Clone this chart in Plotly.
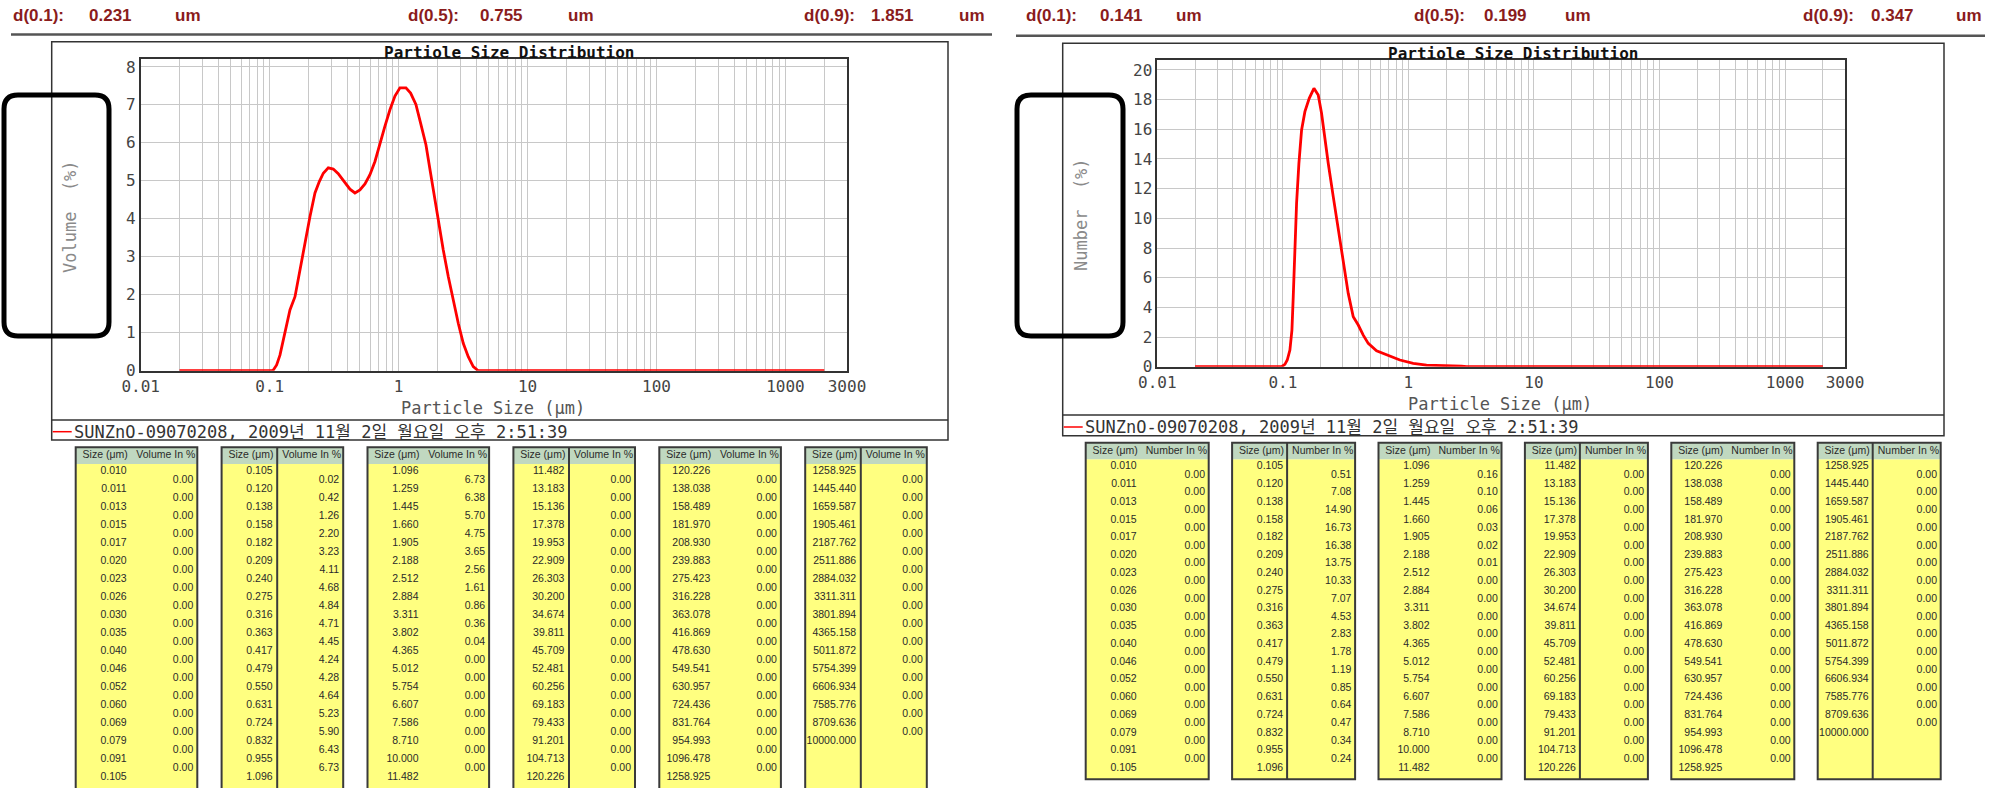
import math
import plotly.graph_objects as go

W, H = 1991, 788

# ---------------- data ----------------
size_labels = [
    "0.010", "0.011", "0.013", "0.015", "0.017", "0.020", "0.023", "0.026", "0.030", "0.035",
    "0.040", "0.046", "0.052", "0.060", "0.069", "0.079", "0.091", "0.105",
    "0.120", "0.138", "0.158", "0.182", "0.209", "0.240", "0.275", "0.316", "0.363", "0.417",
    "0.479", "0.550", "0.631", "0.724", "0.832", "0.955", "1.096",
    "1.259", "1.445", "1.660", "1.905", "2.188", "2.512", "2.884", "3.311", "3.802", "4.365",
    "5.012", "5.754", "6.607", "7.586", "8.710", "10.000", "11.482",
    "13.183", "15.136", "17.378", "19.953", "22.909", "26.303", "30.200", "34.674", "39.811",
    "45.709", "52.481", "60.256", "69.183", "79.433", "91.201", "104.713", "120.226",
    "138.038", "158.489", "181.970", "208.930", "239.883", "275.423", "316.228", "363.078",
    "416.869", "478.630", "549.541", "630.957", "724.436", "831.764", "954.993", "1096.478", "1258.925",
    "1445.440", "1659.587", "1905.461", "2187.762", "2511.886", "2884.032", "3311.311", "3801.894",
    "4365.158", "5011.872", "5754.399", "6606.934", "7585.776", "8709.636", "10000.000",
]

volume_pct = (
    [0.00] * 17
    + [0.02, 0.42, 1.26, 2.20, 3.23, 4.11, 4.68, 4.84, 4.71, 4.45, 4.24, 4.28, 4.64, 5.23, 5.90, 6.43, 6.73]
    + [6.73, 6.38, 5.70, 4.75, 3.65, 2.56, 1.61, 0.86, 0.36, 0.04] + [0.00] * 7
    + [0.00] * 17
    + [0.00] * 17
    + [0.00] * 15
)

number_pct = (
    [0.00] * 17
    + [0.51, 7.08, 14.90, 16.73, 16.38, 13.75, 10.33, 7.07, 4.53, 2.83, 1.78, 1.19, 0.85, 0.64, 0.47, 0.34, 0.24]
    + [0.16, 0.10, 0.06, 0.03, 0.02, 0.01] + [0.00] * 11
    + [0.00] * 17
    + [0.00] * 17
    + [0.00] * 15
)

# curves read from the plotted distributions
vol_curve_x = [0.02, 0.1036, 0.1068, 0.1133, 0.1202, 0.1276, 0.1354, 0.1437, 0.1572, 0.1718, 0.1878,
               0.2055, 0.2246, 0.2427, 0.2606, 0.2849, 0.3114, 0.3404, 0.3724, 0.4195, 0.4586, 0.5013,
               0.5483, 0.5994, 0.6555, 0.7166, 0.7836, 0.8566, 0.9367, 1.024, 1.14, 1.239, 1.362, 1.481,
               1.629, 1.770, 1.857, 2.030, 2.220, 2.427, 2.654, 2.901, 3.172, 3.468, 3.792, 4.147, 2000]
vol_curve_y = [0, 0, 0.02, 0.15, 0.41, 0.81, 1.25, 1.60, 1.95, 2.65, 3.45,
               4.06, 4.68, 4.98, 5.20, 5.34, 5.31, 5.19, 5.01, 4.78, 4.68, 4.76,
               4.92, 5.16, 5.51, 6.00, 6.44, 6.87, 7.23, 7.45, 7.45, 7.31, 7.01, 6.52,
               5.95, 5.20, 4.76, 3.97, 3.18, 2.48, 1.82, 1.25, 0.72, 0.37, 0.11, 0, 0]

num_curve_x = [0.02, 0.0977, 0.1038, 0.1084, 0.1138, 0.1181, 0.121, 0.1248, 0.1286, 0.1342, 0.141,
               0.1498, 0.1622, 0.1768, 0.1913, 0.2033, 0.2162, 0.2298, 0.2519, 0.2761, 0.3027, 0.3317,
               0.3635, 0.3985, 0.4367, 0.4786, 0.5574, 0.6697, 0.8551, 1.092, 1.394, 2.649, 2.904, 2000]
num_curve_y = [0, 0, 0.16, 0.45, 1.12, 2.47, 4.72, 8.09, 11.0, 13.7, 15.96,
               17.19, 18.09, 18.76, 18.31, 17.08, 15.28, 13.71, 11.46, 9.21, 6.97, 4.94,
               3.37, 2.81, 2.13, 1.57, 1.08, 0.79, 0.45, 0.22, 0.11, 0.04, 0, 0]

x_tick_positions = [0.01, 0.1, 1, 10, 100, 1000, 3000]
x_tick_labels = ["0.01", "0.1", "1", "10", "100", "1000", "3000"]

d_labels = ["d(0.1):", "d(0.5):", "d(0.9):"]
volume_d = ["0.231", "0.755", "1.851"]
number_d = ["0.141", "0.199", "0.347"]

chart_title = "Partiole Size Distribution"
x_title = "Particle Size (\u03bcm)"
legend_text = "SUNZnO-09070208, 2009\ub144 11\uc6d4 2\uc77c \uc6d4\uc694\uc77c \uc624\ud6c4 2:51:39"

# ---------------- styling ----------------
MONO = "DejaVu Sans Mono, Noto Sans CJK KR, monospace"
SANS = "Liberation Sans, Arial, sans-serif"
NARROW = "Liberation Sans Narrow, Liberation Sans, Arial, sans-serif"
GRID = "#c8c8c8"
DARK = "#333333"
RED = "#ff0000"
DRED = "#8a1c1c"
YELLOW = "#ffff80"
HDR = "#c0d8c0"

fig = go.Figure()
shapes = []
annotations = []

# grid values for log axis
grid_vals = []
for k in range(-2, 4):
    for m in range(1, 10):
        v = m * 10 ** k
        if v <= 3000 + 1e-9:
            grid_vals.append(v)
if 3000 not in grid_vals:
    grid_vals.append(3000)
grid_text = []
for v in grid_vals:
    lab = ""
    for p, t in zip(x_tick_positions, x_tick_labels):
        if abs(v - p) / p < 1e-6:
            lab = t
    grid_text.append(lab)

# chart geometry (pixels)
charts = [
    dict(px0=140.7, px1=847.0, py0=59.3, py1=370.7, ymax=8.2, dtick=1, yname="Volume  (%)",
         cx=(vol_curve_x, vol_curve_y), box=(51.7, 41.7, 948.0, 440.0), sep=420.0,
         title_xy=(509, 52), xt_xy=(493, 408), yt_xy=(70, 217), leg_y=431.7,
         rect=(4, 95, 109, 336)),
    dict(px0=1157.3, px1=1845.0, py0=60.0, py1=366.7, ymax=20.67, dtick=2, yname="Number  (%)",
         cx=(num_curve_x, num_curve_y), box=(1062.7, 43.3, 1944.0, 435.7), sep=415.0,
         title_xy=(1513, 53), xt_xy=(1500, 404), yt_xy=(1081, 215), leg_y=427.0,
         rect=(1017, 95, 1123, 336)),
]

layout_axes = {}
for i, c in enumerate(charts):
    sfx = "" if i == 0 else "2"
    xa = "xaxis" + sfx
    ya = "yaxis" + sfx
    layout_axes[xa] = dict(
        domain=[c["px0"] / W, c["px1"] / W], anchor="y" + sfx, type="log",
        range=[-2, math.log10(3000)], tickmode="array", tickvals=grid_vals, ticktext=grid_text,
        showgrid=True, gridcolor=GRID, gridwidth=1, showline=True, linecolor=DARK, linewidth=1.5,
        mirror=True, ticks="", zeroline=False, fixedrange=True, automargin=False,
        tickfont=dict(family=MONO, size=16, color="#444444"),
    )
    layout_axes[ya] = dict(
        domain=[1 - c["py1"] / H, 1 - c["py0"] / H], anchor="x" + sfx,
        range=[0, c["ymax"]], dtick=c["dtick"], tick0=0,
        showgrid=True, gridcolor=GRID, gridwidth=1, showline=True, linecolor=DARK, linewidth=1.5,
        mirror=True, ticks="", zeroline=False, fixedrange=True, automargin=False,
        tickfont=dict(family=MONO, size=16, color="#444444"),
    )
    fig.add_trace(go.Scatter(
        x=c["cx"][0], y=c["cx"][1], mode="lines", line=dict(color=RED, width=2.8),
        xaxis="x" + sfx, yaxis="y" + sfx, hoverinfo="skip", showlegend=False,
    ))
    # outer box and legend separator
    bx0, by0, bx1, by1 = c["box"]
    shapes.append(dict(type="rect", xref="x3", yref="y3", x0=bx0, y0=by0, x1=bx1, y1=by1,
                       line=dict(color=DARK, width=1.5), fillcolor="rgba(0,0,0,0)", layer="above"))
    shapes.append(dict(type="line", xref="x3", yref="y3", x0=bx0, y0=c["sep"], x1=bx1, y1=c["sep"],
                       line=dict(color=DARK, width=1.5), layer="above"))
    # legend
    shapes.append(dict(type="line", xref="x3", yref="y3", x0=bx0 + 1, y0=c["leg_y"], x1=bx0 + 20,
                       y1=c["leg_y"], line=dict(color=RED, width=1.5), layer="above"))
    annotations.append(dict(xref="x3", yref="y3", x=bx0 + 20, y=c["leg_y"], text=legend_text,
                            showarrow=False, xanchor="left", yanchor="middle",
                            font=dict(family=MONO, size=17, color="#333333")))
    # titles
    annotations.append(dict(xref="x3", yref="y3", x=c["title_xy"][0], y=c["title_xy"][1],
                            text=chart_title, showarrow=False, xanchor="center", yanchor="middle",
                            font=dict(family=MONO, size=16, color="#111111", weight="bold")))
    annotations.append(dict(xref="x3", yref="y3", x=c["xt_xy"][0], y=c["xt_xy"][1],
                            text=x_title, showarrow=False, xanchor="center", yanchor="middle",
                            font=dict(family=MONO, size=17, color="#555555")))
    annotations.append(dict(xref="x3", yref="y3", x=c["yt_xy"][0], y=c["yt_xy"][1],
                            text=c["yname"], showarrow=False, xanchor="center", yanchor="middle",
                            textangle=-90, font=dict(family=MONO, size=17, color="#8a8a8a")))
    # rounded black highlight box
    x0, y0, x1, y1 = c["rect"]
    r = 14
    path = (f"M {x0 + r},{y0} L {x1 - r},{y0} Q {x1},{y0} {x1},{y0 + r} L {x1},{y1 - r} "
            f"Q {x1},{y1} {x1 - r},{y1} L {x0 + r},{y1} Q {x0},{y1} {x0},{y1 - r} "
            f"L {x0},{y0 + r} Q {x0},{y0} {x0 + r},{y0} Z")
    shapes.append(dict(type="path", xref="x3", yref="y3", path=path,
                       line=dict(color="#000000", width=5), fillcolor="rgba(0,0,0,0)", layer="above"))

# header lines + d-values
shapes.append(dict(type="line", xref="x3", yref="y3", x0=11, y0=34.5, x1=992, y1=34.5,
                   line=dict(color="#555555", width=2.5), layer="above"))
shapes.append(dict(type="line", xref="x3", yref="y3", x0=1016, y0=35.7, x1=1985, y1=35.7,
                   line=dict(color="#555555", width=2.5), layer="above"))

hdr_groups = [
    (volume_d, [11, 406, 802], [87, 478, 869], [173, 566, 957]),
    (number_d, [1024, 1412, 1801], [1098, 1482, 1869], [1174, 1563, 1954]),
]
for vals, lx, vx, ux in hdr_groups:
    for lab, v, a, b, cc in zip(d_labels, vals, lx, vx, ux):
        for txt, xx in ((lab, a), (v, b), ("um", cc)):
            annotations.append(dict(xref="x3", yref="y3", x=xx, y=15, text=txt, showarrow=False,
                                    xanchor="left", yanchor="middle",
                                    font=dict(family=SANS, size=17, color=DRED, weight="bold")))

# ---------------- tables ----------------
tables = [
    dict(values=volume_pct, head="Volume In %", left0=75.7, pitch=145.9, width=121.6, div=55.6,
         top=447.3, hbot=464.0, bot=800.0, s0=471.7, v0=480.7, rh=18.0, sdx=51.0, vdx=117.6),
    dict(values=number_pct, head="Number In %", left0=1085.7, pitch=146.4, width=123.0, div=55.0,
         top=442.7, hbot=459.3, bot=779.3, s0=466.7, v0=475.0, rh=17.75, sdx=51.0, vdx=119.3),
]
for tb in tables:
    sx, sy, st, vx, vy, vt = [], [], [], [], [], []
    hx, hy, ht = [], [], []
    for t in range(6):
        L = tb["left0"] + tb["pitch"] * t
        R = L + tb["width"]
        shapes.append(dict(type="rect", xref="x3", yref="y3", x0=L, y0=tb["hbot"], x1=R, y1=tb["bot"],
                           line=dict(width=0), fillcolor=YELLOW, layer="below"))
        shapes.append(dict(type="rect", xref="x3", yref="y3", x0=L, y0=tb["top"], x1=R, y1=tb["hbot"],
                           line=dict(width=0), fillcolor=HDR, layer="below"))
        shapes.append(dict(type="rect", xref="x3", yref="y3", x0=L, y0=tb["top"], x1=R, y1=tb["bot"],
                           line=dict(color="#3a3a3a", width=2), fillcolor="rgba(0,0,0,0)", layer="below"))
        if t % 2 == 1:
            shapes.append(dict(type="line", xref="x3", yref="y3", x0=L + tb["div"], y0=tb["top"],
                               x1=L + tb["div"], y1=tb["bot"], line=dict(color="#3a3a3a", width=2),
                               layer="below"))
        s_chunk = size_labels[17 * t: 17 * t + 18]
        v_chunk = tb["values"][17 * t: 17 * t + 17]
        for j, s in enumerate(s_chunk):
            sx.append(L + tb["sdx"])
            sy.append(tb["s0"] + tb["rh"] * j)
            st.append(s)
        for j, v in enumerate(v_chunk):
            vx.append(L + tb["vdx"])
            vy.append(tb["v0"] + tb["rh"] * j)
            vt.append(f"{v:.2f}")
        hx += [L + tb["sdx"] + 1, L + tb["vdx"] + 2]
        hy += [(tb["top"] + tb["hbot"]) / 2] * 2
        ht += ["Size (\u03bcm)", tb["head"]]
    for xs, ys, ts in ((sx, sy, st), (vx, vy, vt), (hx, hy, ht)):
        fig.add_trace(go.Scatter(
            x=xs, y=ys, text=ts, mode="text", textposition="middle left",
            textfont=dict(family=NARROW, size=10.5, color="#2a2a2a"),
            xaxis="x3", yaxis="y3", hoverinfo="skip", showlegend=False, cliponaxis=False,
        ))

layout_axes["xaxis3"] = dict(domain=[0, 1], range=[0, W], visible=False, anchor="y3", fixedrange=True)
layout_axes["yaxis3"] = dict(domain=[0, 1], range=[H, 0], visible=False, anchor="x3", fixedrange=True)

fig.update_layout(
    width=W, height=H, margin=dict(l=0, r=0, t=0, b=0, pad=0),
    paper_bgcolor="white", plot_bgcolor="rgba(0,0,0,0)",
    showlegend=False, hovermode=False,
    shapes=shapes, annotations=annotations,
    **layout_axes,
)

fig.write_html(
    "out.html",
    config={"displayModeBar": False, "responsive": False},
    post_script="document.body.style.margin='0';document.body.style.padding='0';"
                "document.body.style.overflow='hidden';"
                "document.documentElement.style.overflow='hidden';",
)
